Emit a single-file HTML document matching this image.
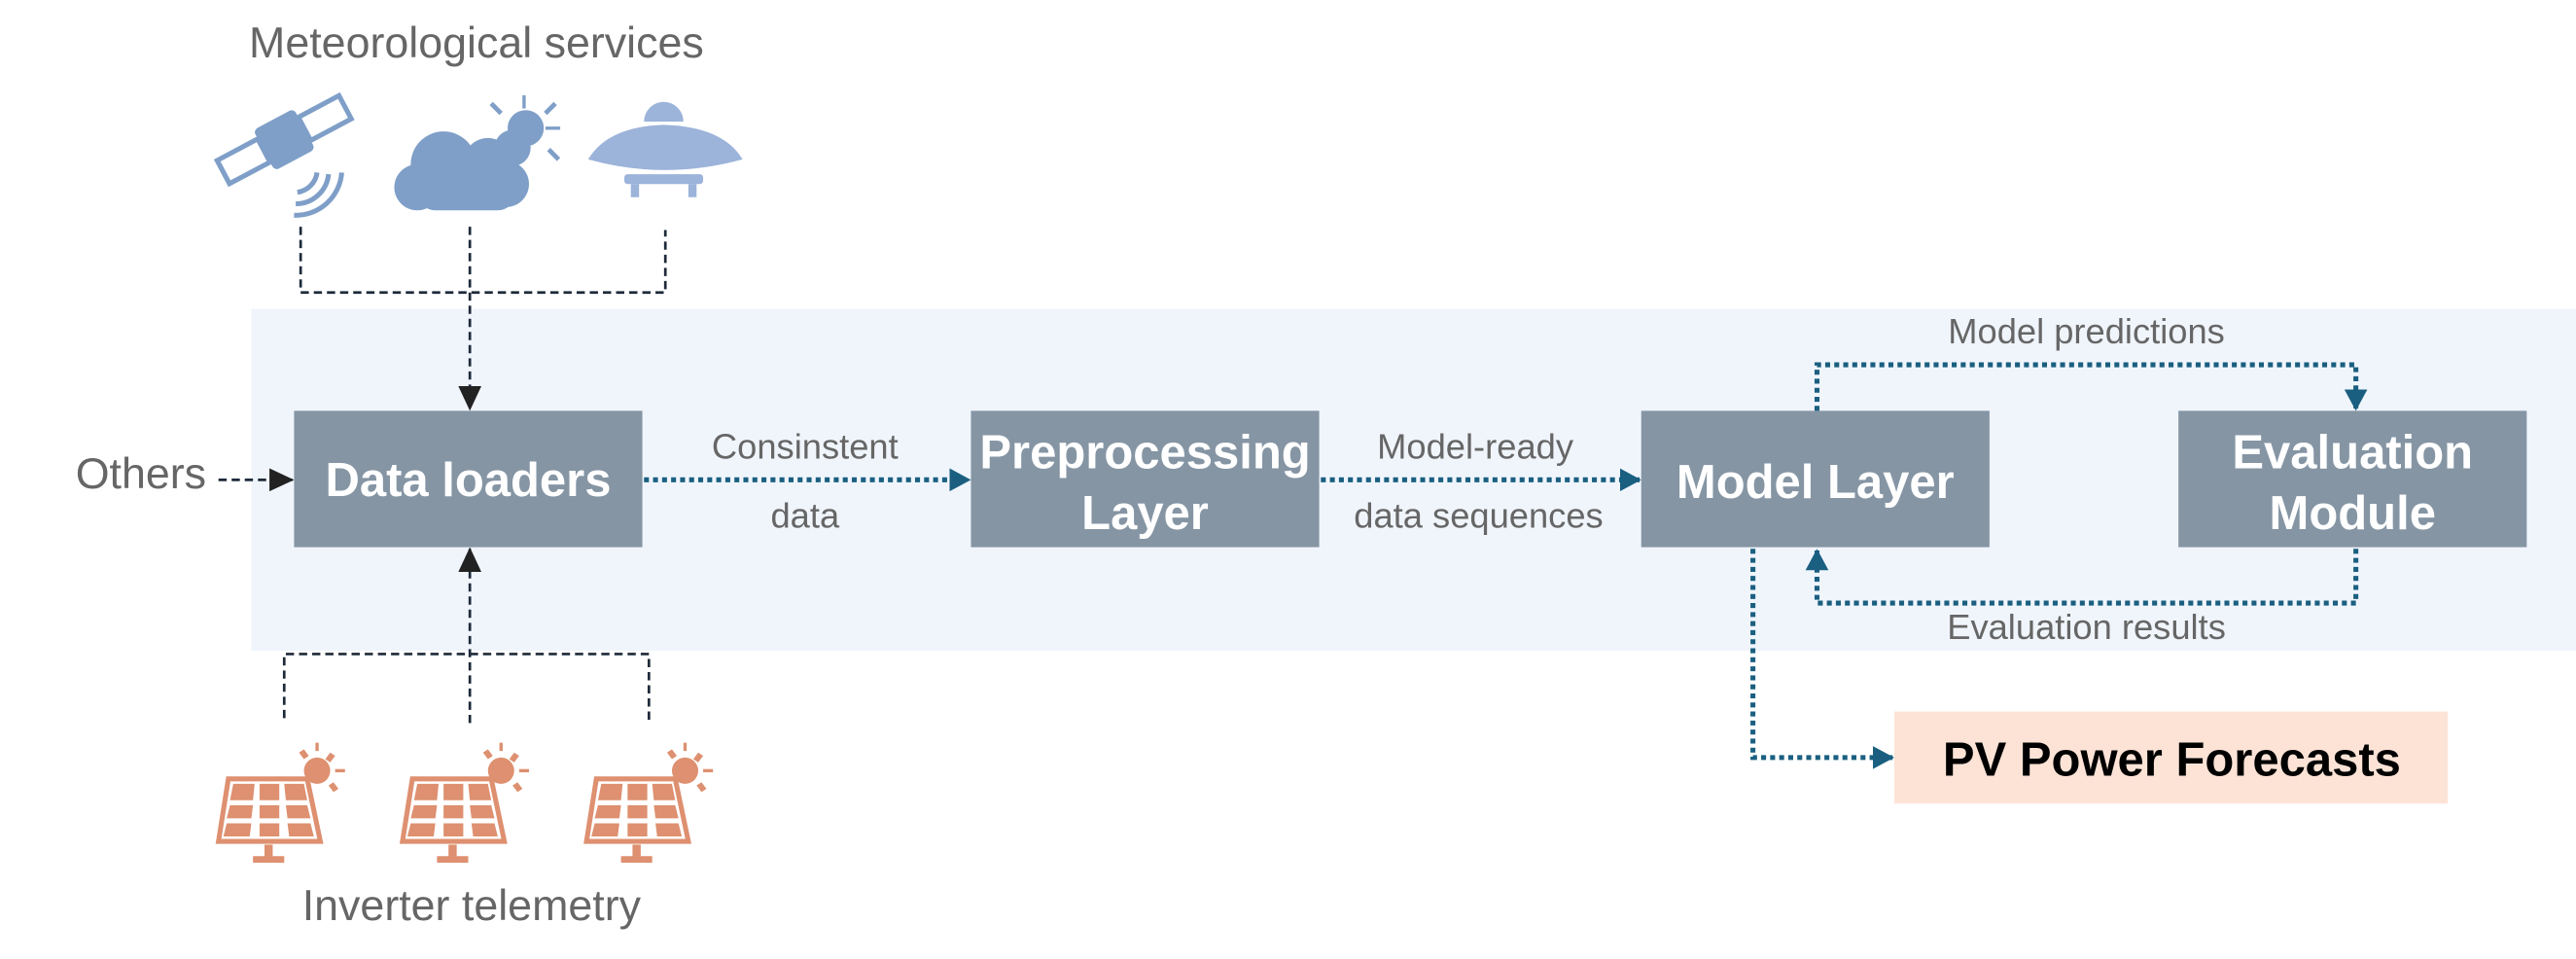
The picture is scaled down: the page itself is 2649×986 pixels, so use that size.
<!DOCTYPE html>
<html><head><meta charset="utf-8"><style>
html,body{margin:0;padding:0;background:#fff;}
svg{display:block;}
text{font-family:"Liberation Sans",Arial,sans-serif;}
</style></head><body>
<svg width="2649" height="986" viewBox="0 0 1568 583.6" preserveAspectRatio="none" xmlns="http://www.w3.org/2000/svg">
<defs>
<marker id="ak" markerWidth="15" markerHeight="14" refX="14" refY="7" orient="auto" markerUnits="userSpaceOnUse"><path d="M0,0 L15,7 L0,14 z" fill="#222"/></marker>
<marker id="at" markerWidth="13" markerHeight="14" refX="12" refY="7" orient="auto" markerUnits="userSpaceOnUse"><path d="M0,0 L13,7 L0,14 z" fill="#1a5f80"/></marker>
<g id="panel">
<path d="M6,22 L54,22 L62,60 L0,60 z" fill="none" stroke="#de9070" stroke-width="3"/>
<g fill="#de9070">
<path d="M9,25 L22,25 L21,35 L7,35 z"/><path d="M25,25 L37,25 L37,35 L25,35 z"/><path d="M40,25 L52,25 L54,35 L41,35 z"/>
<path d="M7,38 L21,38 L20,46 L5,46 z"/><path d="M25,38 L37,38 L37,46 L25,46 z"/><path d="M41,38 L54,38 L56,46 L42,46 z"/>
<path d="M5,49 L20,49 L19,57 L3,57 z"/><path d="M25,49 L37,49 L37,57 L25,57 z"/><path d="M42,49 L56,49 L58,57 L43,57 z"/>
<rect x="28" y="62" width="5" height="8"/><rect x="21" y="69" width="19" height="4"/>
<circle cx="60" cy="17" r="8"/>
<rect x="59" y="0" width="2" height="5"/><rect x="71" y="16" width="6" height="2"/>
<path d="M49,6 l3,-2 l3,4 l-3,2z"/><path d="M68,6 l3,2 l-3,4 l-3,-2z"/><path d="M67,26 l3,-2 l3,4 l-3,2z"/>
</g>
</g>
</defs>
<rect x="153" y="188" width="1415" height="208" fill="#f0f5fc"/>

<text x="290" y="35" font-size="26.5" fill="#666" text-anchor="middle">Meteorological services</text>
<!-- satellite -->
<g fill="#7f9fc8">
<g transform="translate(173,85) rotate(-28)">
<rect x="-42" y="-8" width="28" height="16" fill="none" stroke="#7f9fc8" stroke-width="3"/>
<rect x="14" y="-8" width="28" height="16" fill="none" stroke="#7f9fc8" stroke-width="3"/>
<rect x="-14" y="-14" width="28" height="28" rx="3"/>
</g>
<path d="M181,117 a14,14 0 0 0 12,-12" fill="none" stroke="#7f9fc8" stroke-width="3"/>
<path d="M180,124 a20,20 0 0 0 20,-18" fill="none" stroke="#7f9fc8" stroke-width="3"/>
<path d="M179,131 a28,28 0 0 0 29,-26" fill="none" stroke="#7f9fc8" stroke-width="3"/>
</g>
<!-- cloud -->
<g fill="#7f9fc8">
<circle cx="320" cy="78" r="11"/>
<rect x="318" y="58" width="2" height="8"/><rect x="332" y="77" width="9" height="2"/>
<path d="M298,64 l2,-2 l6,6 l-2,2z"/><path d="M337,62 l2,2 l-6,6 l-2,-2z"/><path d="M333,92 l2,-2 l6,6 l-2,2z"/>
<circle cx="312" cy="90" r="11"/>
<circle cx="270" cy="100" r="20"/>
<circle cx="297" cy="99" r="15"/>
<circle cx="308" cy="112" r="14"/>
<circle cx="254" cy="114" r="14"/>
<rect x="254" y="104" width="60" height="24" rx="11"/>
</g>
<!-- dome -->
<g fill="#9cb3da">
<path d="M392,74 a12,12 0 0 1 24,0 z"/>
<path d="M358,97 Q370,77 404,76 Q440,77 452,97 Q405,110 358,97 z"/>
<rect x="380" y="106" width="48" height="6" rx="2"/>
<rect x="384" y="112" width="5" height="8"/><rect x="419" y="112" width="5" height="8"/>
</g>

<!-- top dashed connectors -->
<g fill="none" stroke="#1e2a3a" stroke-width="1.6" stroke-dasharray="5,3">
<path d="M183,138 V178 H405 V140"/>
<path d="M286,138 V249" marker-end="url(#ak)"/>
<path d="M133,292 H178" marker-end="url(#ak)"/>
<path d="M173,437 V398 H395 V440"/>
<path d="M286,440 V334" marker-end="url(#ak)"/>
</g>
<text x="46" y="297" font-size="26.5" fill="#666">Others</text>

<!-- boxes -->
<g fill="#8595a4">
<rect x="179" y="250" width="212" height="83"/>
<rect x="591" y="250" width="212" height="83"/>
<rect x="999" y="250" width="212" height="83"/>
<rect x="1326" y="250" width="212" height="83"/>
</g>
<g font-size="29" font-weight="bold" fill="#fff" text-anchor="middle">
<text x="285" y="302">Data loaders</text>
<text x="697" y="285">Preprocessing</text>
<text x="697" y="322">Layer</text>
<text x="1105" y="303">Model Layer</text>
<text x="1432" y="285">Evaluation</text>
<text x="1432" y="322">Module</text>
</g>

<!-- teal dotted connectors -->
<g fill="none" stroke="#1a5f80" stroke-width="3" stroke-dasharray="3,2.5">
<path d="M392,292 H590" marker-end="url(#at)"/>
<path d="M804,292 H998" marker-end="url(#at)"/>
<path d="M1106,250 V222 H1434 V249" marker-end="url(#at)"/>
<path d="M1434,334 V367 H1106 V335" marker-end="url(#at)"/>
<path d="M1067,334 V461 H1152" marker-end="url(#at)"/>
</g>
<g font-size="21.5" fill="#666" text-anchor="middle">
<text x="490" y="279">Consinstent</text>
<text x="490" y="321">data</text>
<text x="898" y="279">Model-ready</text>
<text x="900" y="321">data sequences</text>
<text x="1270" y="209">Model predictions</text>
<text x="1270" y="389">Evaluation results</text>
</g>

<rect x="1153" y="433" width="337" height="56" fill="#fce3d6"/>
<text x="1322" y="472" font-size="29" font-weight="bold" fill="#000" text-anchor="middle">PV Power Forecasts</text>

<use href="#panel" x="133" y="452"/>
<use href="#panel" x="245" y="452"/>
<use href="#panel" x="357" y="452"/>
<text x="287" y="560" font-size="26.5" fill="#666" text-anchor="middle">Inverter telemetry</text>
</svg>
</body></html>
